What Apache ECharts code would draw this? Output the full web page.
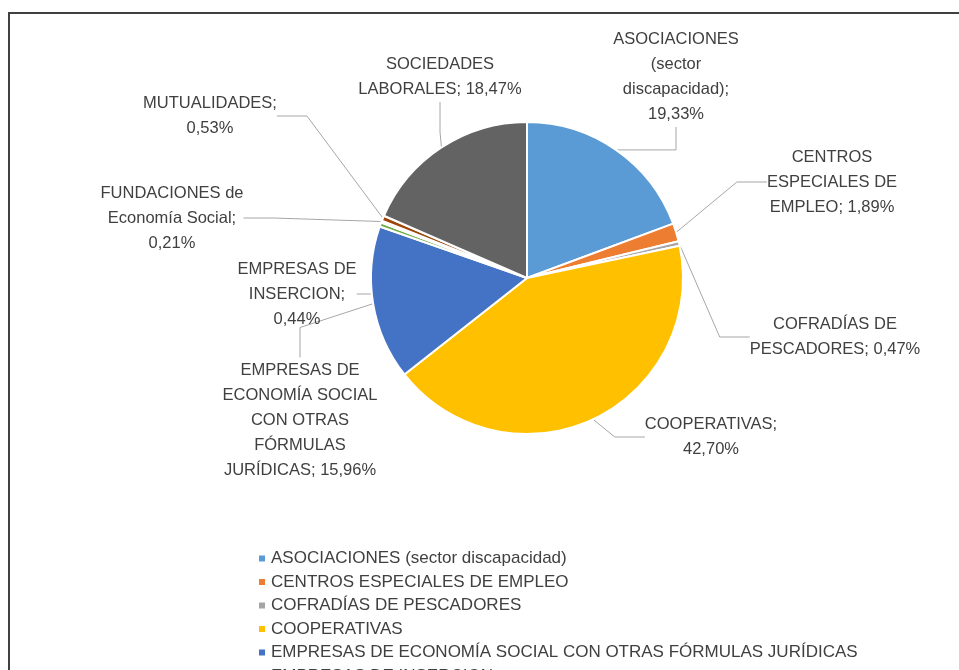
<!DOCTYPE html>
<html>
<head>
<meta charset="utf-8">
<script src="https://cdn.jsdelivr.net/npm/echarts@6/dist/echarts.min.js"></script>
<style>
  html, body { margin: 0; padding: 0; background: #fff; }
  #main { width: 959px; height: 670px; }
</style>
</head>
<body>
<div id="main"></div>
<script>
var categories = [
  'ASOCIACIONES (sector discapacidad)',
  'CENTROS ESPECIALES DE EMPLEO',
  'COFRADÍAS DE PESCADORES',
  'COOPERATIVAS',
  'EMPRESAS DE ECONOMÍA SOCIAL CON OTRAS FÓRMULAS JURÍDICAS',
  'EMPRESAS DE INSERCION',
  'FUNDACIONES de Economía Social',
  'MUTUALIDADES',
  'SOCIEDADES LABORALES'
];
var values = [19.33, 1.89, 0.47, 42.70, 15.96, 0.44, 0.21, 0.53, 18.47];
// how each data label is broken into lines (value appended after the last part)
var labelNames = [
  'ASOCIACIONES\n(sector\ndiscapacidad);\n',
  'CENTROS\nESPECIALES DE\nEMPLEO; ',
  'COFRADÍAS DE\nPESCADORES; ',
  'COOPERATIVAS;\n',
  'EMPRESAS DE\nECONOMÍA SOCIAL\nCON OTRAS\nFÓRMULAS\nJURÍDICAS; ',
  'EMPRESAS DE\nINSERCION;\n',
  'FUNDACIONES de\nEconomía Social;\n',
  'MUTUALIDADES;\n',
  'SOCIEDADES\nLABORALES; '
];
var colors = ['#5B9BD5', '#ED7D31', '#A5A5A5', '#FFC000', '#4472C4', '#70AD47', '#264478', '#9E480E', '#636363'];

// label centres on the page
var labelPos = [
  [676, 77], [832, 182], [835, 337], [711, 437], [300, 420],
  [297, 294], [172, 218], [210, 116], [440, 77]
];

var font = '"Liberation Sans", sans-serif';

var myChart = echarts.init(document.getElementById('main'));
myChart.setOption({
  animation: false,
  color: colors,
  graphic: [{
    type: 'rect',
    shape: { x: 9, y: 13, width: 1000, height: 1000 },
    style: { fill: 'none', stroke: '#404040', lineWidth: 2 }
  }],
  legend: {
    orient: 'vertical',
    left: 252,
    top: 545,
    height: 1000,
    itemWidth: 8,
    itemHeight: 8,
    itemGap: 6.5,
    icon: 'rect',
    textStyle: { fontFamily: font, fontSize: 17, color: '#404040' },
    data: categories
  },
  series: [{
    type: 'pie',
    center: [527, 278],
    radius: 156,
    startAngle: 90,
    clockwise: true,
    itemStyle: { borderColor: '#fff', borderWidth: 2 },
    label: {
      show: true,
      color: '#404040',
      fontFamily: font,
      fontSize: 16.5,
      lineHeight: 25,
      align: 'center',
      formatter: function (p) {
        return labelNames[p.dataIndex] + p.value.toFixed(2).replace('.', ',') + '%';
      }
    },
    labelLine: {
      show: true,
      lineStyle: { color: '#A6A6A6', width: 1 }
    },
    labelLayout: function (p) {
      var pos = labelPos[p.dataIndex];
      return {
        x: pos[0],
        y: pos[1],
        align: 'center',
        verticalAlign: 'middle'
      };
    },
    data: categories.map(function (c, i) {
      return { name: c, value: values[i] };
    })
  }]
});
</script>
</body>
</html>
